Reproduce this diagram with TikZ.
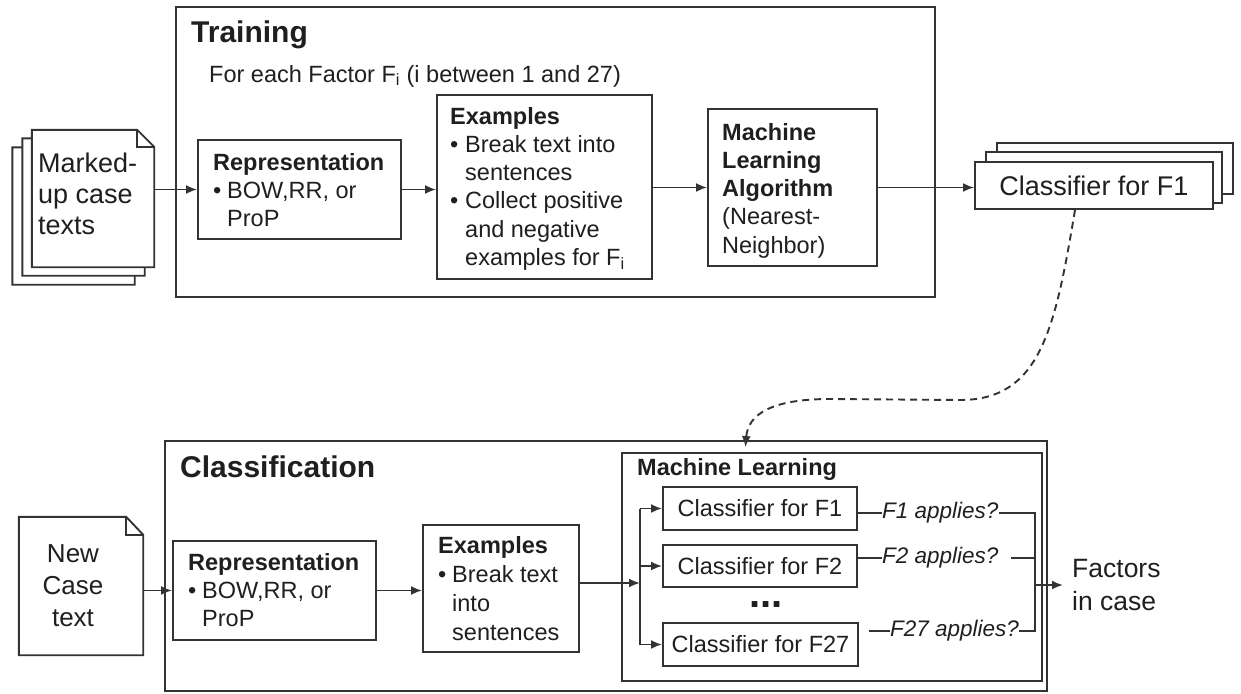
\documentclass[tikz,border=0pt]{standalone}
\usepackage{fontspec}
\setmainfont{Liberation Sans}
\usetikzlibrary{arrows.meta,calc}

% bullet with a fixed-width slot, used in the box lists
\newcommand{\listbul}[1]{\makebox[#1][l]{•}}

\begin{document}
\begin{tikzpicture}[x=1pt,y=-1pt,
  ink/.style={draw=black!80,line width=1.9pt},
  frame/.style={ink,fill=white,rectangle,inner sep=0pt,text=black!88},
  body/.style={font=\fontsize{23.5}{28.3}\selectfont},
  lbl/.style={inner sep=0pt,anchor=base west,text=black!88},
  title/.style={lbl,font=\fontsize{30}{36}\selectfont\bfseries},
  applies/.style={lbl,anchor=west,font=\fontsize{22.5}{27}\selectfont\itshape},
  tip/.style={-{Latex[length=11pt,width=9pt]}},
  arr/.style={ink,tip},
  page/.style={rectangle,inner sep=0pt,minimum width=122pt,minimum height=137pt}
]
\fill[white] (0,0) rectangle (1241,693);
\useasboundingbox (0,0) rectangle (1241,693);

% ---------------- Training ----------------
\node[frame,minimum width=759pt,minimum height=290pt] (train) at (555.5,152) {};
\node[title] (traintitle) at (191,43) {Training};
\node[lbl,body] (trainsub) at (209,82) {For each Factor F\textsubscript{i} (i between 1 and 27)};

% stack of input documents
\node[page] (doc3) at (73.5,216) {};
\node[page] (doc2) at (83.5,207) {};
\node[page] (doc1) at (93,198.5) {};
\foreach \d in {doc3,doc2,doc1}{
  \filldraw[ink,fill=white,line join=miter] (\d.south west) -- (\d.north west)
    -- ([xshift=-17pt]\d.north east) -- ([yshift=-17pt]\d.north east)
    -- (\d.south east) -- cycle;
  \draw[ink] ([xshift=-17pt]\d.north east) |- ([yshift=-17pt]\d.north east);
}
\node[lbl,font=\fontsize{27}{31}\selectfont] (doc1text) at (38,172)
  {\parbox[t]{120pt}{Marked-\\up case\\texts}};

\node[frame,minimum width=203pt,minimum height=99pt] (rep1) at (299.5,189.5) {};
\node[lbl,body] (rep1text) at (213,170)
  {\parbox[t]{190pt}{\textbf{Representation}\\\listbul{14pt}BOW,RR, or\\\hspace*{14pt}ProP}};

\node[frame,minimum width=215pt,minimum height=184pt] (ex1) at (544.5,187) {};
\node[lbl,body] (ex1text) at (450,124)
  {\parbox[t]{200pt}{\textbf{Examples}\\\listbul{15pt}Break text into\\\hspace*{15pt}sentences\\%
   \listbul{15pt}Collect positive\\\hspace*{15pt}and negative\\\hspace*{15pt}examples for F\textsubscript{i}}};

\node[frame,minimum width=169pt,minimum height=157pt] (ml1) at (792.5,187.5) {};
\node[lbl,body] (ml1text) at (722,140)
  {\parbox[t]{150pt}{\textbf{Machine}\\\textbf{Learning}\\\textbf{Algorithm}\\(Nearest-\\Neighbor)}};

% stack of trained classifiers
\node[frame,minimum width=236pt,minimum height=51pt] (cls3) at (1115,168.5) {};
\node[frame,minimum width=236pt,minimum height=51pt] (cls2) at (1104,177.5) {};
\node[frame,minimum width=238pt,minimum height=47pt,font=\fontsize{27}{32}\selectfont] (cls) at (1094,185.5) {Classifier for F1};

\draw[arr] (rep1.west -| doc1.east) -- (rep1.west);
\draw[arr] (rep1.east) -- (rep1.east -| ex1.west);
\draw[arr] (ml1.west -| ex1.east) -- (ml1.west);
\draw[arr] (ml1.east) -- (ml1.east -| cls.west);

% ---------------- Classification ----------------
\node[frame,minimum width=882pt,minimum height=250pt] (clsf) at (606,566) {};
\node[title] (clsftitle) at (180,477) {Classification};

\node[page,minimum width=124pt,minimum height=138pt] (newdoc) at (81,586) {};
\filldraw[ink,fill=white,line join=miter] (newdoc.south west) -- (newdoc.north west)
  -- ([xshift=-17pt]newdoc.north east) -- ([yshift=-18pt]newdoc.north east)
  -- (newdoc.south east) -- cycle;
\draw[ink] ([xshift=-17pt]newdoc.north east) |- ([yshift=-18pt]newdoc.north east);
\node[lbl,anchor=base,font=\fontsize{26}{32}\selectfont] (newdoctext) at (73,562)
  {\parbox[t]{100pt}{\centering New\\Case\\text}};

\node[frame,minimum width=203pt,minimum height=99pt] (rep2) at (274.5,590.5) {};
\node[lbl,body] (rep2text) at (188,570)
  {\parbox[t]{190pt}{\textbf{Representation}\\\listbul{14pt}BOW,RR, or\\\hspace*{14pt}ProP}};

\node[frame,minimum width=156pt,minimum height=127pt] (ex2) at (501,588.5) {};
\node[lbl,font=\fontsize{23.5}{29}\selectfont] (ex2text) at (438,553)
  {\parbox[t]{150pt}{\textbf{Examples}\\\listbul{14pt}Break text\\\hspace*{14pt}into\\\hspace*{14pt}sentences}};

\node[frame,minimum width=420pt,minimum height=228pt] (ml2) at (832,567) {};
\node[lbl,body,font=\fontsize{23.5}{28.3}\selectfont\bfseries] (ml2title) at (637,475) {Machine Learning};

\node[frame,body,minimum width=194pt,minimum height=43pt] (c1) at (760,508.5) {Classifier for F1};
\node[frame,body,minimum width=194pt,minimum height=42pt] (c2) at (760,566) {Classifier for F2};
\node[frame,body,minimum width=195pt,minimum height=43pt] (c27) at (760.5,644.5) {Classifier for F27};
\node[lbl,anchor=base,font=\fontsize{40}{40}\selectfont\bfseries] (dots) at (766,607) {...};

\draw[arr] (rep2.west -| newdoc.east) -- (rep2.west);
\draw[arr] (rep2.east) -- (rep2.east -| ex2.west);

\coordinate (split) at (640,583);
\draw[arr] (ex2.east |- split) -- (split);
\draw[ink] (c1.west -| split) -- (c27.west -| split);
\foreach \c in {c1,c2,c27} \draw[arr] (\c.west -| split) -- (\c.west);

\node[applies] (f1l) at (882,513) {F1 applies?};
\node[applies] (f2l) at (882,558) {F2 applies?};
\node[applies] (f27l) at (890,631) {F27 applies?};
\node[lbl,font=\fontsize{26.5}{33}\selectfont] (factors) at (1072,577)
  {\parbox[t]{120pt}{Factors\\in case}};

\coordinate (coll) at (1035,585);
\draw[ink] (c1.east |- f1l.west) -- (f1l.west);
\draw[ink] (c2.east |- f2l.west) -- (f2l.west);
\draw[ink] ($(c27.east |- f27l.west)+(10,0)$) -- (f27l.west);
\draw[ink] (f1l.east) -| (coll);
\draw[ink] ($(f2l.east)+(12,0)$) -- (f2l.east -| coll);
\draw[ink] (f27l.east) -| (coll);
\draw[arr,shorten >=9pt] (coll) -- (coll -| factors.west);

% trained classifier feeds the classification stage
\draw[ink,dash pattern=on 7pt off 5pt,tip,shorten >=5pt]
  ([xshift=-19pt]cls.south) .. controls (1055,330) and (1040,400) .. (960,400)
  -- (830,399) .. controls (770,399) and (748,415) .. ([xshift=-87pt]ml2.north);
\end{tikzpicture}
\end{document}
